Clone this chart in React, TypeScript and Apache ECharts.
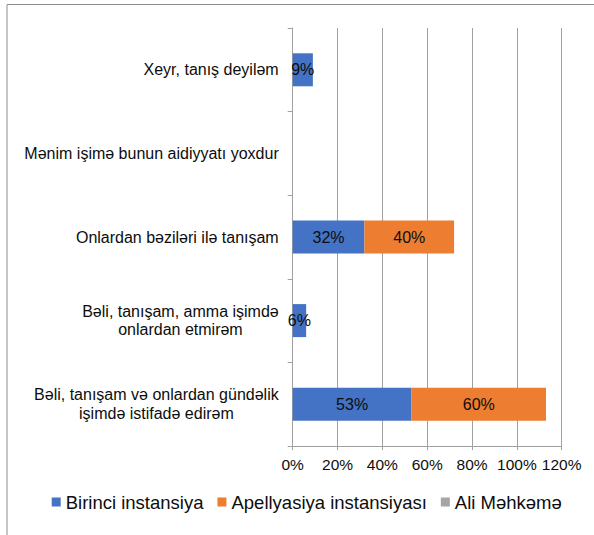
import React, { useEffect, useRef } from "react";
import * as echarts from "echarts";

const categories = [
  "Bəli, tanışam və onlardan gündəlik\nişimdə istifadə edirəm",
  "Bəli, tanışam, amma işimdə\nonlardan etmirəm",
  "Onlardan bəziləri ilə tanışam",
  "Mənim işimə bunun aidiyyatı yoxdur",
  "Xeyr, tanış deyiləm",
];
const seriesNames = ["Birinci instansiya", "Apellyasiya instansiyası", "Ali Məhkəmə"];
const birinci = [53, 6, 32, 0, 9];
const apellyasiya = [60, 0, 40, 0, 0];
const aliMehkeme = [0, 0, 0, 0, 0];
const xTicks = { min: 0, max: 120, interval: 20 };
const colors = ["#4472c4", "#ed7d31", "#a5a5a5"];

const FONT = '"Liberation Sans", Arial, sans-serif';

export default function App() {
  const ref = useRef<HTMLDivElement>(null);
  useEffect(() => {
    document.body.style.margin = "0";
    const chart = echarts.init(ref.current!, null, { renderer: "svg" });
    const values = [birinci, apellyasiya, aliMehkeme];
    chart.setOption({
      animation: false,
      backgroundColor: "#ffffff",
      textStyle: { fontFamily: FONT },
      graphic: [
        {
          type: "rect",
          shape: { x: 7, y: 4.5, width: 700, height: 700 },
          style: { fill: "none", stroke: "#8c8c8c", lineWidth: 1 },
          silent: true,
          z: -1,
        },
      ],
      grid: { left: 292.7, right: 32.3, top: 28, bottom: 89, containLabel: false },
      xAxis: {
        type: "value",
        min: xTicks.min,
        max: xTicks.max,
        interval: xTicks.interval,
        axisLine: { show: true, lineStyle: { color: "#a0a0a0", width: 1 } },
        axisTick: { show: true, length: 4, lineStyle: { color: "#a0a0a0" } },
        splitLine: { show: true, lineStyle: { color: "#a0a0a0", width: 1 } },
        axisLabel: {
          formatter: "{value}%",
          fontSize: 15.5,
          color: "#0d0d0d",
          margin: 10.5,
          fontFamily: FONT,
        },
      },
      yAxis: {
        type: "category",
        data: categories,
        axisLine: { show: true, lineStyle: { color: "#a0a0a0", width: 1 } },
        axisTick: { show: true, length: 5, lineStyle: { color: "#a0a0a0" } },
        splitLine: { show: false },
        axisLabel: {
          margin: 14,
          align: "right",
          color: "#0d0d0d",
          fontSize: 16,
          lineHeight: 18.5,
          fontFamily: FONT,
          formatter: (v: string) =>
            v
              .split("\n")
              .map((l) => "{c|" + l + "}")
              .join("\n"),
          rich: {
            c: {
              align: "center",
              fontSize: 16,
              lineHeight: 18.5,
              color: "#0d0d0d",
              fontFamily: FONT,
            },
          },
        },
      },
      legend: {
        left: 51.7,
        top: 492.5,
        padding: 0,
        icon: "rect",
        itemWidth: 9,
        itemHeight: 9,
        itemGap: 14,
        textStyle: { fontSize: 18.5, color: "#0d0d0d", fontFamily: FONT },
        data: seriesNames,
      },
      series: seriesNames.map((name, i) => ({
        name,
        type: "bar",
        stack: "total",
        barWidth: 33,
        itemStyle: { color: colors[i] },
        label: {
          show: true,
          position: "inside",
          color: "#0d0d0d",
          fontSize: 16,
          fontFamily: FONT,
          formatter: (p: any) => (p.value ? p.value + "%" : ""),
        },
        data: values[i],
      })),
    });
    return () => chart.dispose();
  }, []);
  return <div ref={ref} style={{ width: 594, height: 535 }} />;
}
